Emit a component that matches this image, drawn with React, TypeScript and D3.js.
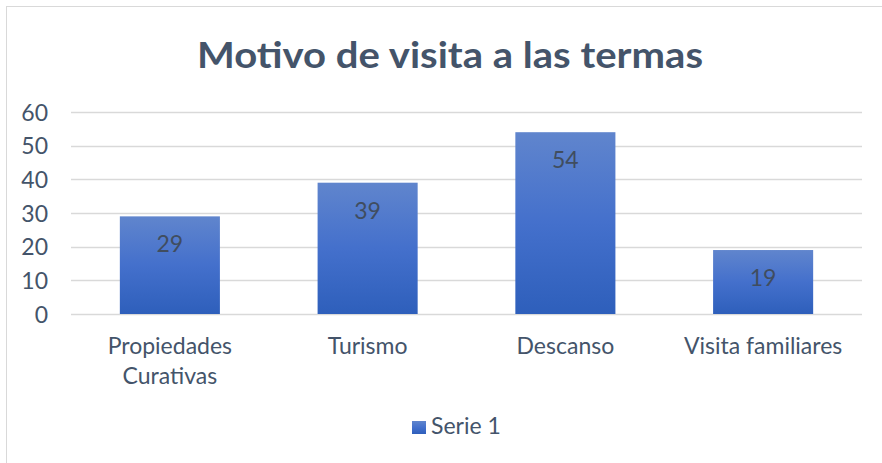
import React, { useEffect, useRef } from "react";
import * as d3 from "d3";

const categories = ["Propiedades Curativas", "Turismo", "Descanso", "Visita familiares"];
const categoryLines = [["Propiedades", "Curativas"], ["Turismo"], ["Descanso"], ["Visita familiares"]];
const serie1 = [29, 39, 54, 19];
const yTicks = [0, 10, 20, 30, 40, 50, 60];
const seriesName = "Serie 1";
const title = "Motivo de visita a las termas";

const W = 882;
const H = 463;
const textColor = "#44546A";
const font = "Lato, 'Open Sans', sans-serif";
const fs = 23;

export default function App() {
  const svgRef = useRef<SVGSVGElement>(null);

  useEffect(() => {
    const svg = d3.select(svgRef.current);
    svg.selectAll("*").remove();

    const defs = svg.append("defs");
    const grad = defs.append("linearGradient").attr("id", "barGrad")
      .attr("x1", 0).attr("y1", 0).attr("x2", 0).attr("y2", 1);
    grad.append("stop").attr("offset", "0%").attr("stop-color", "#6085CD");
    grad.append("stop").attr("offset", "50%").attr("stop-color", "#4470CC");
    grad.append("stop").attr("offset", "100%").attr("stop-color", "#2E5FBB");

    // chart frame
    svg.append("rect")
      .attr("x", 6.5).attr("y", 6.5).attr("width", 880).attr("height", 470)
      .attr("fill", "white").attr("stroke", "#D9D9D9");

    svg.append("text")
      .attr("x", 450).attr("y", 68)
      .attr("text-anchor", "middle")
      .attr("font-family", font).attr("font-weight", "bold")
      .attr("font-size", 37).attr("fill", textColor)
      .attr("textLength", 506).attr("lengthAdjust", "spacingAndGlyphs")
      .text(title);

    const x = d3.scaleBand<string>().domain(categories).range([71, 862]).paddingInner(0.494).paddingOuter(0.247);
    const y = d3.scaleLinear().domain([0, 60]).range([314, 112]);

    const grid = svg.append("g");
    grid.selectAll("line").data(yTicks).enter().append("line")
      .attr("x1", 71).attr("x2", 862)
      .attr("y1", d => Math.round(y(d)) + 0.5).attr("y2", d => Math.round(y(d)) + 0.5)
      .attr("stroke", "#D9D9D9").attr("stroke-width", 1.3);

    const yAxis = d3.axisLeft(y).tickValues(yTicks).tickSize(0).tickPadding(0);
    const ya = svg.append("g").attr("transform", "translate(48,0)").call(yAxis);
    ya.select(".domain").remove();
    ya.selectAll("text")
      .attr("font-family", font).attr("font-size", fs).attr("fill", textColor)
      .attr("dy", "0.36em");

    svg.append("g").selectAll("rect").data(serie1).enter().append("rect")
      .attr("x", (d, i) => x(categories[i])!)
      .attr("width", x.bandwidth())
      .attr("y", d => y(d))
      .attr("height", d => y(0) - y(d))
      .attr("fill", "url(#barGrad)");

    svg.append("g").selectAll("text").data(serie1).enter().append("text")
      .attr("x", (d, i) => x(categories[i])! + x.bandwidth() / 2)
      .attr("y", d => y(d) + 36)
      .attr("text-anchor", "middle")
      .attr("font-family", font).attr("font-size", fs).attr("fill", "#404D5F")
      .text(d => d);

    const xl = svg.append("g");
    categoryLines.forEach((lines, i) => {
      const t = xl.append("text")
        .attr("x", x(categories[i])! + x.bandwidth() / 2)
        .attr("y", 354)
        .attr("text-anchor", "middle")
        .attr("font-family", font).attr("font-size", fs).attr("fill", textColor);
      lines.forEach((ln, j) => {
        t.append("tspan").attr("x", x(categories[i])! + x.bandwidth() / 2)
          .attr("dy", j === 0 ? 0 : 30).text(ln);
      });
    });

    const lg = svg.append("g").attr("transform", "translate(412,421)");
    lg.append("rect").attr("width", 14).attr("height", 13).attr("fill", "url(#barGrad)");
    lg.append("text").attr("x", 19).attr("y", 13)
      .attr("font-family", font).attr("font-size", fs).attr("fill", textColor)
      .text(seriesName);
  }, []);

  return (
    <svg ref={svgRef} width={W} height={H}
      style={{ position: "absolute", left: 0, top: 0, display: "block", background: "white" }} />
  );
}
